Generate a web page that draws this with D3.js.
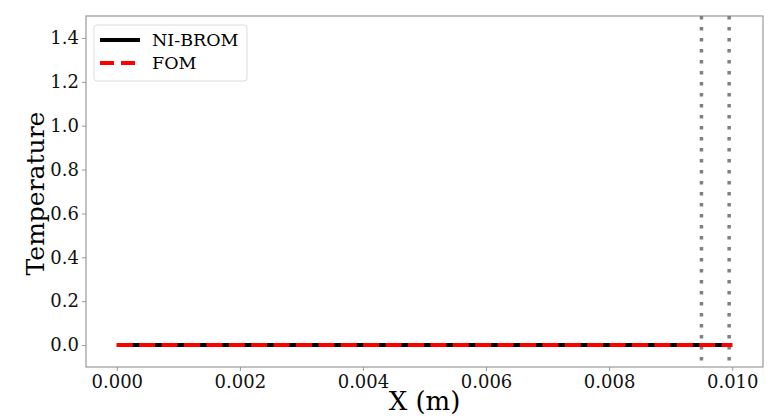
<!DOCTYPE html>
<html>
<head>
<meta charset="utf-8">
<script src="https://cdn.jsdelivr.net/npm/d3@7"></script>
<style>
  body { margin: 0; background: #fff; }
  text { font-family: "DejaVu Serif", serif; }
</style>
</head>
<body>
<div id="chart"></div>
<script>
// data
const xValues = [0, 0.001, 0.002, 0.003, 0.004, 0.005, 0.006, 0.007, 0.008, 0.009, 0.01];
const niBrom = [0, 0, 0, 0, 0, 0, 0, 0, 0, 0, 0];
const fom = [0, 0, 0, 0, 0, 0, 0, 0, 0, 0, 0];
const markerLines = [0.0095, 0.00995];
const xTicks = [0, 0.002, 0.004, 0.006, 0.008, 0.01];
const yTicks = [0, 0.2, 0.4, 0.6, 0.8, 1.0, 1.2, 1.4];
const seriesNames = ["NI-BROM", "FOM"];

const width = 775, height = 416;
const margin = { top: 16, right: 12, bottom: 49, left: 86 };
const innerWidth = width - margin.left - margin.right;
const innerHeight = height - margin.top - margin.bottom;

const svg = d3.select("#chart").append("svg")
    .attr("width", width)
    .attr("height", height);

const g = svg.append("g")
    .attr("transform", `translate(${margin.left},${margin.top})`);

const xScale = d3.scaleLinear().domain([-0.0005, 0.0105]).range([0, innerWidth]);
const yScale = d3.scaleLinear().domain([-0.1, 1.5]).range([innerHeight, 0]);

// axes
const xAxis = d3.axisBottom(xScale).tickValues(xTicks).tickFormat(d3.format(".3f")).tickSize(4).tickPadding(4).tickSizeOuter(0);
const yAxis = d3.axisLeft(yScale).tickValues(yTicks).tickFormat(d3.format(".1f")).tickSize(4).tickPadding(3).tickSizeOuter(0);

const gx = g.append("g").attr("transform", `translate(0,${innerHeight})`).call(xAxis);
const gy = g.append("g").call(yAxis);
[gx, gy].forEach(a => {
    a.select(".domain").remove();
    a.selectAll(".tick line").attr("stroke", "#999");
    a.selectAll(".tick text").style("font-size", "18px").style("font-family", "DejaVu Serif").attr("fill", "#111");
});

// frame
g.append("rect")
    .attr("width", innerWidth)
    .attr("height", innerHeight)
    .attr("fill", "none")
    .attr("stroke", "#999")
    .attr("stroke-width", 1.2);

// vertical dotted lines
g.selectAll(".vline")
    .data(markerLines)
    .join("line")
    .attr("x1", d => xScale(d)).attr("x2", d => xScale(d))
    .attr("y1", 0).attr("y2", innerHeight)
    .attr("stroke", "#808080")
    .attr("stroke-width", 3.5)
    .attr("stroke-dasharray", "3.5,7.5");

const line = d3.line()
    .x((d, i) => xScale(xValues[i]))
    .y(d => yScale(d));

g.append("path")
    .datum(niBrom)
    .attr("d", line)
    .attr("fill", "none")
    .attr("stroke", "black")
    .attr("stroke-width", 4);

g.append("path")
    .datum(fom)
    .attr("d", line)
    .attr("fill", "none")
    .attr("stroke", "red")
    .attr("stroke-width", 4)
    .attr("stroke-dasharray", "16,6.4");

// legend
const legend = g.append("g").attr("transform", "translate(8,9)");
legend.append("rect")
    .attr("width", 153)
    .attr("height", 56)
    .attr("rx", 3)
    .attr("fill", "white")
    .attr("fill-opacity", 0.8)
    .attr("stroke", "#ddd");

seriesNames.forEach((name, i) => {
    const y = 15 + i * 23;
    legend.append("line")
        .attr("x1", 6).attr("x2", 46)
        .attr("y1", y).attr("y2", y)
        .attr("stroke", i === 0 ? "black" : "red")
        .attr("stroke-width", 4)
        .attr("stroke-dasharray", i === 0 ? null : "14,7");
    legend.append("text")
        .attr("x", 58)
        .attr("y", y + 6)
        .style("font-size", "17.5px")
        .text(name);
});

// axis labels
svg.append("text")
    .attr("x", margin.left + xScale(0.005))
    .attr("y", 410)
    .attr("text-anchor", "middle")
    .style("font-size", "26px")
    .text("X (m)");

svg.append("text")
    .attr("transform", `translate(44,${margin.top + innerHeight / 2 + 2}) rotate(-90)`)
    .attr("text-anchor", "middle")
    .style("font-size", "25px")
    .text("Temperature");
</script>
</body>
</html>
